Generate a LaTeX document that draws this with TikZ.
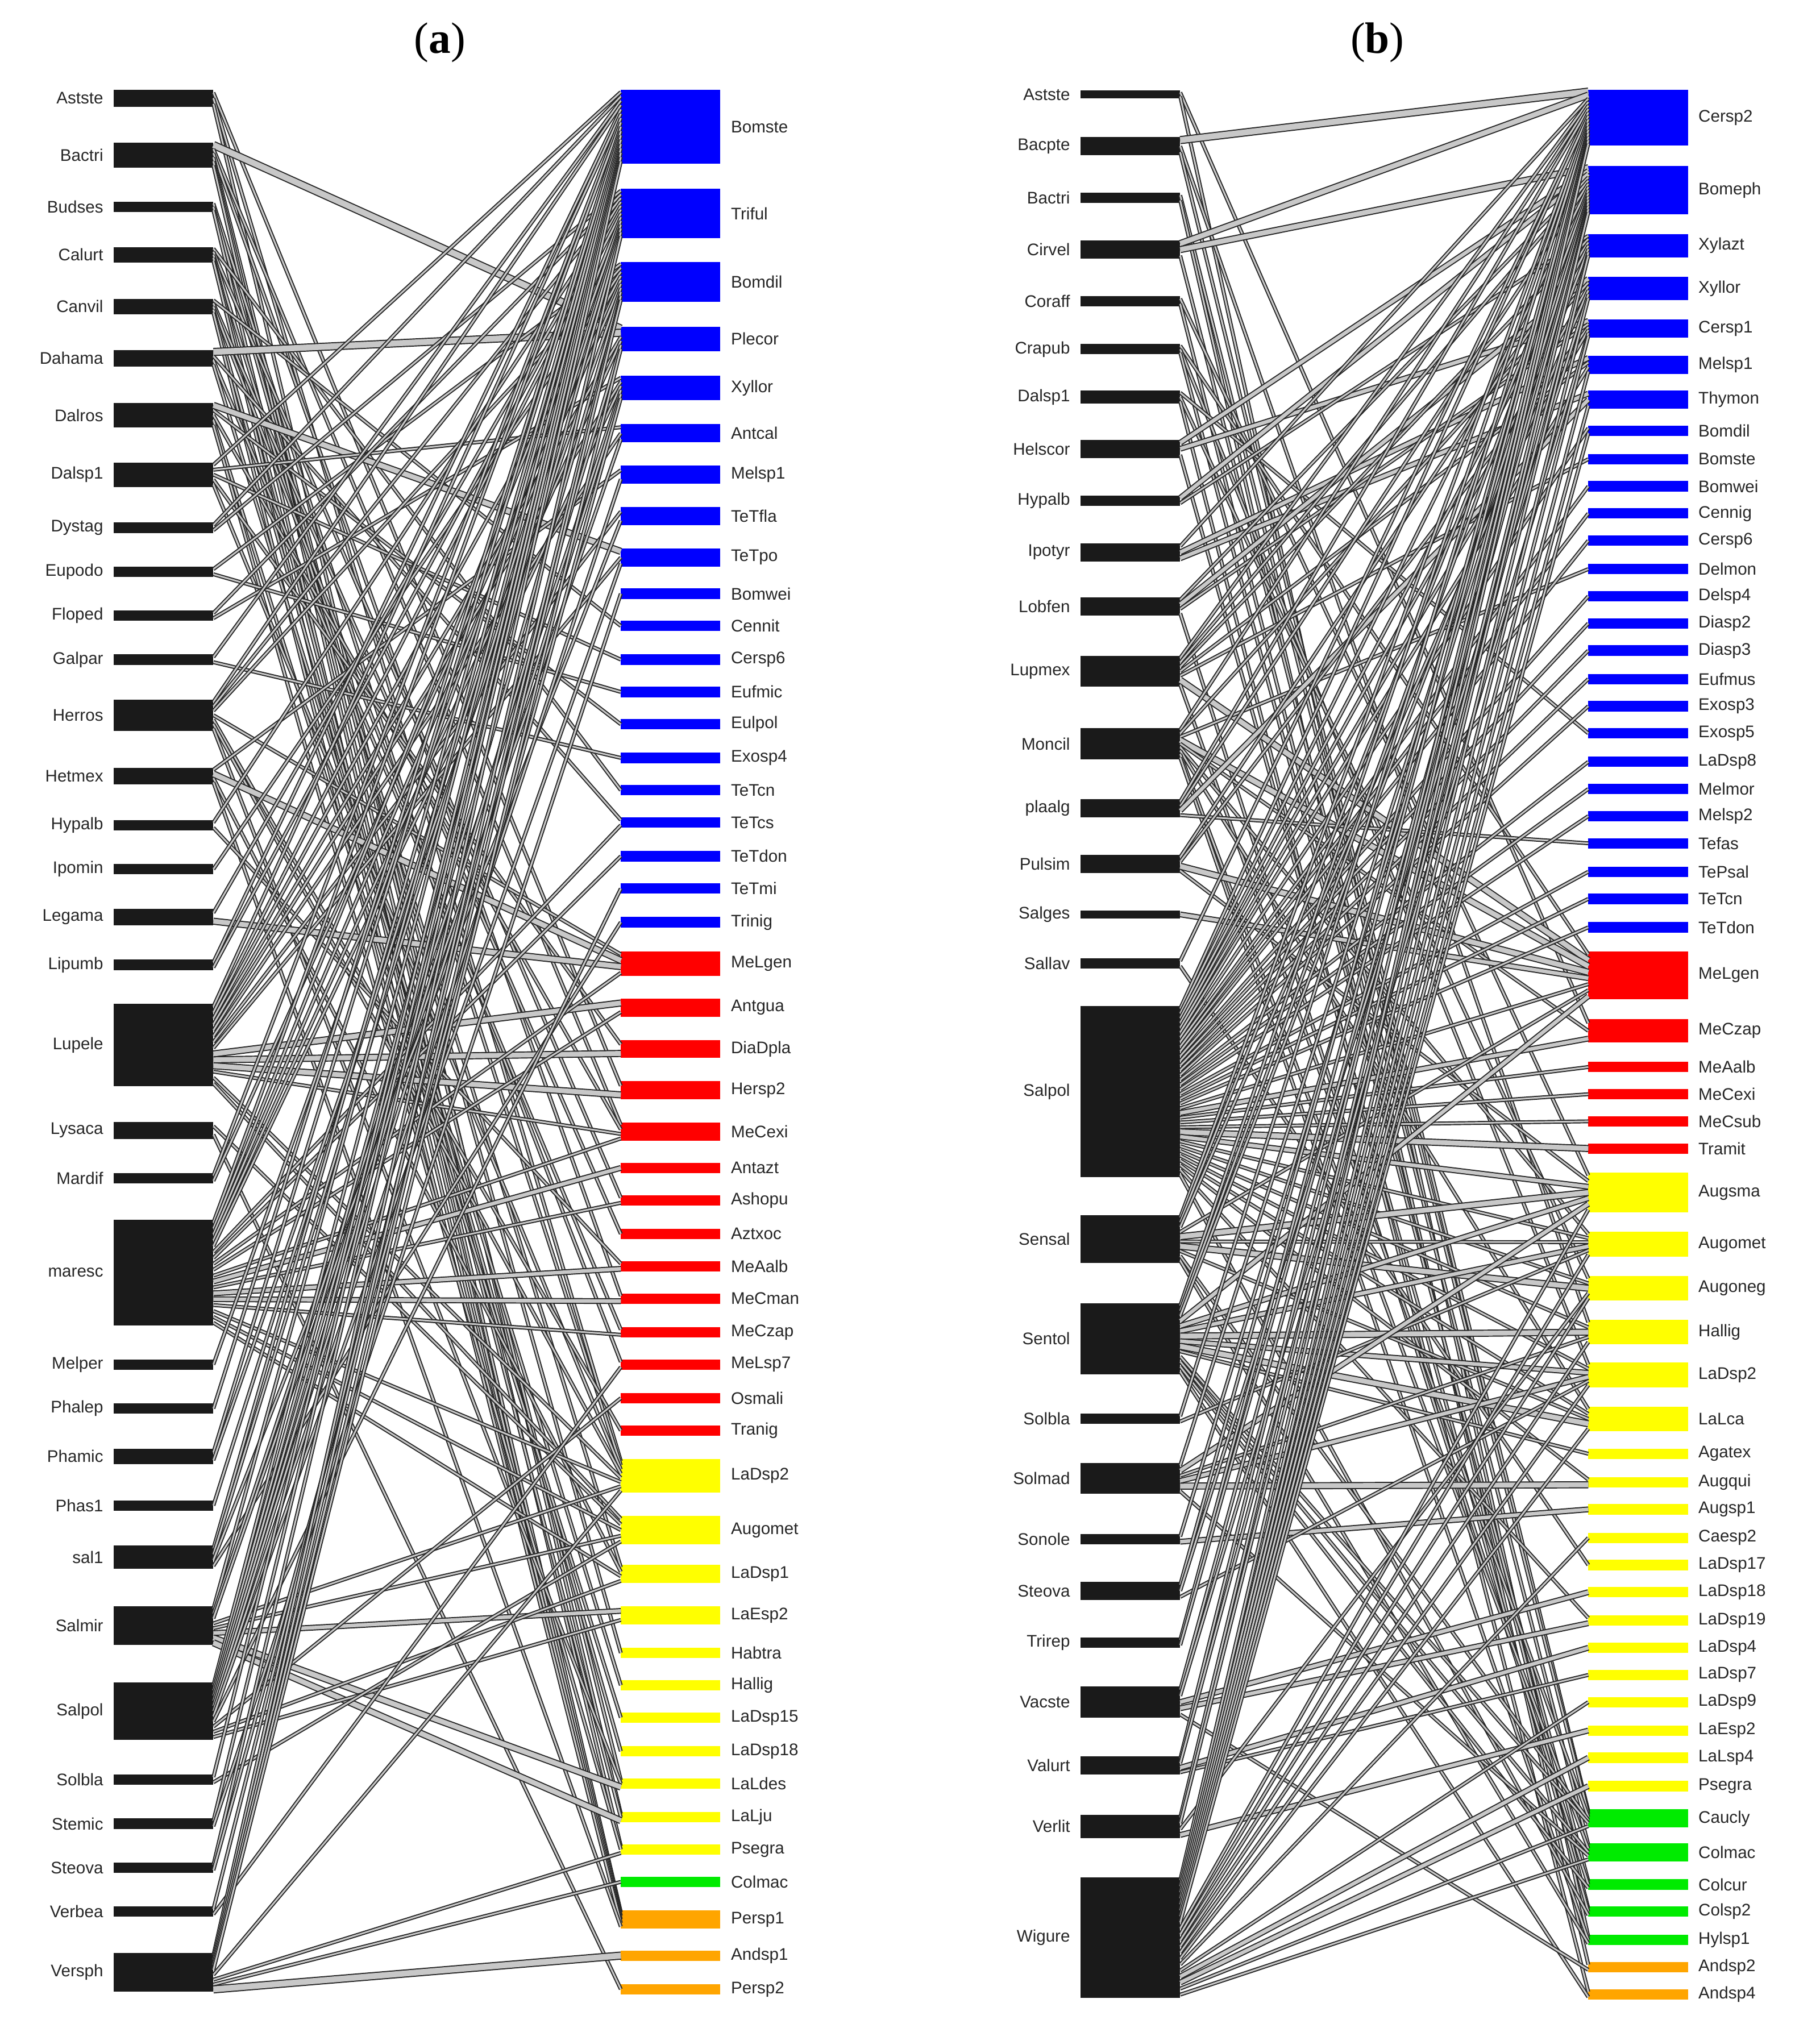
\documentclass[tikz,border=0pt]{standalone}
\usepackage{fontspec}
\setmainfont{Liberation Serif}
\setsansfont{Liberation Sans}
\usetikzlibrary{calc}
\definecolor{barblk}{HTML}{1A1A1A}
\definecolor{pblue}{RGB}{0,0,255}
\definecolor{pred}{RGB}{255,0,0}
\definecolor{pyel}{RGB}{255,255,0}
\definecolor{pgrn}{RGB}{0,235,0}
\definecolor{porg}{RGB}{255,165,0}
\definecolor{lkfill}{HTML}{C8C8C8}
\definecolor{lkline}{HTML}{262626}
\tikzset{
  bar/.style={rectangle, inner sep=0pt, outer sep=0pt, minimum width=77pt, draw=none},
  lab/.style={font=\sffamily\fontsize{13}{15}\selectfont, text=black!85, inner xsep=8pt, inner ysep=0pt},
  lk/.style={draw=lkline, line width=0.85pt, double=lkfill, double distance=#1pt},
  ttl/.style={font=\fontsize{34}{40}\selectfont, inner sep=0pt}
}
\newcommand\xkinc[1]{\expandafter\ifx\csname xk@#1\endcsname\relax\expandafter\gdef\csname xk@#1\endcsname{0}\fi\expandafter\xdef\csname xk@#1\endcsname{\the\numexpr\csname xk@#1\endcsname+1\relax}}
\newcommand\LNKcount[3]{\xkinc{t#1}\xkinc{t#2}}
\newcommand\LNKdraw[3]{%
  \xkinc{c#1}\xkinc{c#2}%
  \edef\xka{\csname xk@c#1\endcsname}\edef\xkb{\csname xk@t#1\endcsname}%
  \edef\xkc{\csname xk@c#2\endcsname}\edef\xkd{\csname xk@t#2\endcsname}%
  \pgfmathsetmacro\xkf{(\xka-0.5)/\xkb}%
  \pgfmathsetmacro\xkg{(\xkc-0.5)/\xkd}%
  \draw[lk=#3] ($(#1.north east)!\xkf!(#1.south east)$) -- ($(#2.north west)!\xkg!(#2.south west)$);}
\let\LNK\LNKcount
\newcommand\Ln[2]{\LNK{#1}{#2}{1.3}}
\newcommand\Lw[3]{\LNK{#1}{#2}{#3}}
\newcommand\BL[4]{\node[bar,fill=barblk,minimum height=#4pt,label={[lab]left:#2}] (#1) at (\bx,#3) {};}
\newcommand\BR[5]{\node[bar,fill=#5,minimum height=#4pt,label={[lab]right:#2}] (#1) at (\bx,#3) {};}

\newcommand\linksA{%
\Ln{aAstste}{aHersp2}\Ln{aAstste}{aLaDsp2}\Ln{aAstste}{aLaLju}%
\Lw{aBactri}{aPlecor}{4.6}\Ln{aBactri}{aMeCexi}\Ln{aBactri}{aMeCman}\Ln{aBactri}{aLaLdes}\Ln{aBactri}{aPsegra}\Ln{aBactri}{aPersp1}%
\Ln{aBudses}{aLaDsp2}\Ln{aBudses}{aHabtra}\Ln{aBudses}{aPersp1}%
\Ln{aCalurt}{aTeTcn}\Ln{aCalurt}{aAshopu}\Ln{aCalurt}{aLaDsp1}\Ln{aCalurt}{aLaLju}\Ln{aCalurt}{aPersp1}%
\Ln{aCanvil}{aCennit}\Ln{aCanvil}{aAztxoc}\Ln{aCanvil}{aMeLsp7}\Ln{aCanvil}{aLaDsp18}\Ln{aCanvil}{aPersp1}%
\Lw{aDahama}{aPlecor}{4.6}\Ln{aDahama}{aTeTcs}\Ln{aDahama}{aMeCzap}\Ln{aDahama}{aHallig}%
\Lw{aDalros}{aTeTpo}{3.8}\Ln{aDalros}{aEulpol}\Ln{aDalros}{aMeCexi}\Ln{aDalros}{aLaDsp15}\Ln{aDalros}{aPsegra}%
\Ln{aDalsp1}{aBomste}\Ln{aDalsp1}{aAntcal}\Ln{aDalsp1}{aCersp6}\Ln{aDalsp1}{aDiaDpla}\Ln{aDalsp1}{aLaDsp2}%
\Ln{aDystag}{aBomste}\Ln{aDystag}{aTriful}%
\Ln{aEupodo}{aBomdil}\Ln{aEupodo}{aEufmic}%
\Ln{aFloped}{aTriful}\Ln{aFloped}{aXyllor}%
\Ln{aGalpar}{aBomste}\Ln{aGalpar}{aExosp4}%
\Ln{aHerros}{aBomste}\Ln{aHerros}{aTriful}\Ln{aHerros}{aBomdil}\Ln{aHerros}{aMeLgen}\Ln{aHerros}{aTranig}\Ln{aHerros}{aLaDsp2}\Ln{aHerros}{aLaLdes}%
\Ln{aHetmex}{aMelsp1}\Lw{aHetmex}{aMeLgen}{3.8}\Ln{aHetmex}{aLaDsp1}\Ln{aHetmex}{aPersp1}%
\Ln{aHypalb}{aTriful}\Ln{aHypalb}{aMeAalb}%
\Ln{aIpomin}{aBomdil}%
\Ln{aLegama}{aTriful}\Lw{aLegama}{aMeLgen}{3.8}%
\Ln{aLipumb}{aBomste}\Ln{aLipumb}{aTriful}%
\Ln{aLupele}{aBomste}\Ln{aLupele}{aTriful}\Ln{aLupele}{aBomdil}\Ln{aLupele}{aPlecor}\Ln{aLupele}{aXyllor}\Ln{aLupele}{aAntcal}\Ln{aLupele}{aTeTfla}\Ln{aLupele}{aTeTpo}%
\Lw{aLupele}{aAntgua}{3.8}\Lw{aLupele}{aDiaDpla}{3.8}\Lw{aLupele}{aHersp2}{3.8}\Ln{aLupele}{aMeCexi}\Ln{aLupele}{aLaDsp2}\Ln{aLupele}{aAugomet}%
\Ln{aLysaca}{aAugomet}\Ln{aLysaca}{aPersp2}%
\Ln{aMardif}{aBomste}\Ln{aMardif}{aBomdil}%
\Ln{amaresc}{aBomste}\Ln{amaresc}{aTriful}\Ln{amaresc}{aBomdil}\Ln{amaresc}{aPlecor}\Ln{amaresc}{aXyllor}\Ln{amaresc}{aTeTcs}%
\Ln{amaresc}{aTeTdon}\Ln{amaresc}{aMeLgen}\Ln{amaresc}{aAntgua}\Ln{amaresc}{aMeCexi}\Lw{amaresc}{aAntazt}{2.8}\Ln{amaresc}{aAshopu}%
\Lw{amaresc}{aMeAalb}{2.8}\Lw{amaresc}{aMeCman}{2.8}\Ln{amaresc}{aMeCzap}\Ln{amaresc}{aLaDsp2}\Ln{amaresc}{aAugomet}\Ln{amaresc}{aLaDsp1}%
\Ln{aMelper}{aTriful}%
\Ln{aPhalep}{aBomste}%
\Ln{aPhamic}{aBomste}\Ln{aPhamic}{aBomdil}%
\Ln{aPhas1}{aTriful}%
\Ln{asal1}{aBomste}\Ln{asal1}{aTriful}\Ln{asal1}{aTeTfla}\Ln{asal1}{aTrinig}%
\Ln{aSalmir}{aBomste}\Ln{aSalmir}{aXyllor}\Ln{aSalmir}{aAntcal}\Ln{aSalmir}{aLaDsp2}\Ln{aSalmir}{aAugomet}%
\Lw{aSalmir}{aLaEsp2}{2.8}\Lw{aSalmir}{aLaLdes}{3.8}\Lw{aSalmir}{aLaLju}{3.8}%
\Ln{aSalpol}{aBomste}\Ln{aSalpol}{aTriful}\Ln{aSalpol}{aBomdil}\Ln{aSalpol}{aPlecor}\Ln{aSalpol}{aXyllor}\Ln{aSalpol}{aMelsp1}%
\Ln{aSalpol}{aTeTpo}\Ln{aSalpol}{aTeTmi}\Ln{aSalpol}{aOsmali}\Ln{aSalpol}{aLaDsp1}\Ln{aSalpol}{aLaEsp2}%
\Ln{aSolbla}{aBomste}\Ln{aSolbla}{aAugomet}%
\Ln{aStemic}{aBomste}\Ln{aStemic}{aBomwei}%
\Ln{aSteova}{aBomste}\Ln{aSteova}{aXyllor}%
\Ln{aVerbea}{aBomdil}\Ln{aVerbea}{aMeLsp7}%
\Ln{aVersph}{aBomste}\Ln{aVersph}{aTriful}\Ln{aVersph}{aBomdil}\Ln{aVersph}{aPlecor}\Ln{aVersph}{aLaDsp2}%
\Ln{aVersph}{aPsegra}\Ln{aVersph}{aColmac}\Lw{aVersph}{aAndsp1}{4.6}%
}

\newcommand\linksB{%
\Ln{bAstste}{bMeCzap}\Ln{bAstste}{bHylsp1}%
\Lw{bBacpte}{bCersp2}{4.6}\Ln{bBacpte}{bHallig}\Ln{bBacpte}{bCaucly}%
\Ln{bBactri}{bCaucly}\Ln{bBactri}{bAndsp2}%
\Lw{bCirvel}{bCersp2}{3.8}\Lw{bCirvel}{bBomeph}{3.8}\Ln{bCirvel}{bColmac}%
\Ln{bCoraff}{bAugsma}\Ln{bCoraff}{bColsp2}%
\Ln{bCrapub}{bMeLgen}\Ln{bCrapub}{bLaDsp2}\Ln{bCrapub}{bColcur}%
\Ln{bDalsp1}{bExosp5}\Ln{bDalsp1}{bAugoneg}\Ln{bDalsp1}{bAndsp4}%
\Lw{bHelscor}{bBomeph}{2.8}\Lw{bHelscor}{bCersp1}{2.8}\Ln{bHelscor}{bColsp2}%
\Lw{bHypalb}{bBomeph}{2.8}\Ln{bHypalb}{bXylazt}%
\Ln{bIpotyr}{bCersp2}\Lw{bIpotyr}{bMelsp1}{2.8}\Lw{bIpotyr}{bThymon}{2.8}%
\Ln{bLobfen}{bBomeph}\Lw{bLobfen}{bXyllor}{2.8}\Ln{bLobfen}{bCersp1}\Ln{bLobfen}{bColcur}%
\Ln{bLupmex}{bCersp2}\Ln{bLupmex}{bBomeph}\Ln{bLupmex}{bXylazt}\Ln{bLupmex}{bMelsp1}\Ln{bLupmex}{bBomste}\Lw{bLupmex}{bMeLgen}{3.8}\Ln{bLupmex}{bCaucly}%
\Ln{bMoncil}{bCersp2}\Ln{bMoncil}{bXyllor}\Ln{bMoncil}{bDelmon}\Lw{bMoncil}{bMeLgen}{3.8}\Ln{bMoncil}{bMeCzap}\Ln{bMoncil}{bAugomet}\Ln{bMoncil}{bLaLca}\Ln{bMoncil}{bColmac}\Ln{bMoncil}{bHylsp1}%
\Ln{bplaalg}{bCersp2}\Ln{bplaalg}{bBomeph}\Lw{bplaalg}{bThymon}{2.8}\Ln{bplaalg}{bTefas}%
\Ln{bPulsim}{bXylazt}\Ln{bPulsim}{bCersp1}\Lw{bPulsim}{bMeLgen}{3.8}\Ln{bPulsim}{bAugsma}%
\Lw{bSalges}{bMeLgen}{2.8}%
\Ln{bSallav}{bCersp2}\Ln{bSallav}{bLaDsp17}%
\Ln{bSalpol}{bCersp2}\Ln{bSalpol}{bBomeph}\Ln{bSalpol}{bXylazt}\Ln{bSalpol}{bXyllor}\Ln{bSalpol}{bCersp1}\Ln{bSalpol}{bMelsp1}%
\Ln{bSalpol}{bBomdil}\Ln{bSalpol}{bBomwei}\Ln{bSalpol}{bCennig}\Ln{bSalpol}{bCersp6}\Ln{bSalpol}{bDelsp4}\Ln{bSalpol}{bDiasp2}%
\Ln{bSalpol}{bDiasp3}\Ln{bSalpol}{bEufmus}\Ln{bSalpol}{bExosp3}\Ln{bSalpol}{bLaDsp8}\Ln{bSalpol}{bMelmor}\Ln{bSalpol}{bMelsp2}%
\Ln{bSalpol}{bTePsal}\Ln{bSalpol}{bTeTcn}\Ln{bSalpol}{bTeTdon}\Ln{bSalpol}{bMeLgen}\Lw{bSalpol}{bMeCzap}{2.8}\Ln{bSalpol}{bMeAalb}%
\Ln{bSalpol}{bMeCexi}\Ln{bSalpol}{bMeCsub}\Lw{bSalpol}{bTramit}{3.8}\Lw{bSalpol}{bAugsma}{2.8}\Ln{bSalpol}{bAugomet}\Ln{bSalpol}{bAugoneg}%
\Ln{bSalpol}{bHallig}\Ln{bSalpol}{bLaDsp2}\Ln{bSalpol}{bLaLca}\Ln{bSalpol}{bAugqui}\Ln{bSalpol}{bLaDsp19}\Ln{bSalpol}{bColsp2}%
\Ln{bSensal}{bCersp2}\Ln{bSensal}{bBomeph}\Ln{bSensal}{bXyllor}\Ln{bSensal}{bMeLgen}\Lw{bSensal}{bAugsma}{3.8}\Ln{bSensal}{bAugomet}\Lw{bSensal}{bAugoneg}{3.8}%
\Ln{bSensal}{bLaLca}\Ln{bSensal}{bCaucly}\Ln{bSensal}{bHylsp1}%
\Ln{bSentol}{bCersp2}\Ln{bSentol}{bBomeph}\Ln{bSentol}{bXylazt}\Lw{bSentol}{bMeLgen}{2.8}\Lw{bSentol}{bAugsma}{2.8}\Lw{bSentol}{bAugomet}{2.8}%
\Lw{bSentol}{bHallig}{3.8}\Lw{bSentol}{bLaDsp2}{2.8}\Lw{bSentol}{bLaLca}{3.8}\Ln{bSentol}{bAgatex}\Ln{bSentol}{bCaucly}\Ln{bSentol}{bColmac}%
\Ln{bSentol}{bColcur}\Ln{bSentol}{bAndsp4}%
\Ln{bSolbla}{bCersp2}\Ln{bSolbla}{bAugomet}%
\Ln{bSolmad}{bBomeph}\Lw{bSolmad}{bAugsma}{2.8}\Ln{bSolmad}{bHallig}\Lw{bSolmad}{bLaDsp2}{2.8}\Lw{bSolmad}{bAugqui}{3.8}\Ln{bSolmad}{bColmac}%
\Ln{bSonole}{bBomeph}\Lw{bSonole}{bAugsp1}{2.8}%
\Ln{bSteova}{bCersp2}\Ln{bSteova}{bXyllor}\Ln{bSteova}{bLaDsp2}%
\Ln{bTrirep}{bCersp2}\Ln{bTrirep}{bBomeph}%
\Ln{bVacste}{bBomeph}\Ln{bVacste}{bCersp1}\Lw{bVacste}{bLaDsp18}{2.8}\Lw{bVacste}{bLaDsp19}{2.8}\Ln{bVacste}{bAndsp2}%
\Ln{bValurt}{bCersp2}\Ln{bValurt}{bXylazt}\Lw{bValurt}{bLaDsp4}{2.8}\Ln{bValurt}{bLaDsp7}%
\Ln{bVerlit}{bCersp2}\Ln{bVerlit}{bBomeph}\Ln{bVerlit}{bAugoneg}\Lw{bVerlit}{bLaEsp2}{2.8}%
\Ln{bWigure}{bCersp2}\Ln{bWigure}{bBomeph}\Ln{bWigure}{bXylazt}\Ln{bWigure}{bXyllor}\Ln{bWigure}{bCersp1}\Ln{bWigure}{bMelsp1}%
\Ln{bWigure}{bThymon}\Ln{bWigure}{bBomdil}\Ln{bWigure}{bAugsma}\Ln{bWigure}{bAugomet}\Ln{bWigure}{bAugoneg}\Ln{bWigure}{bHallig}%
\Ln{bWigure}{bLaDsp2}\Ln{bWigure}{bLaLca}\Ln{bWigure}{bCaesp2}\Ln{bWigure}{bLaDsp9}\Lw{bWigure}{bLaLsp4}{2.8}\Lw{bWigure}{bPsegra}{2.8}%
\Ln{bWigure}{bCaucly}\Ln{bWigure}{bColmac}%
}

\begin{document}
\begin{tikzpicture}[x=1pt,y=-1pt]
\fill[white] (0,0) rectangle (1407,1568);
\useasboundingbox (0,0) rectangle (1407,1568);

\node[ttl] (ta) at (340,33) {(\textbf{a})};
\node[ttl] (tb) at (1065,33) {(\textbf{b})};

% ---------- panel (a) left ----------
\def\bx{126.5}
\BL{aAstste}{Astste}{76}{13}
\BL{aBactri}{Bactri}{120}{19}
\BL{aBudses}{Budses}{160}{8}
\BL{aCalurt}{Calurt}{197}{12}
\BL{aCanvil}{Canvil}{237}{12}
\BL{aDahama}{Dahama}{277}{13}
\BL{aDalros}{Dalros}{321}{19}
\BL{aDalsp1}{Dalsp1}{367}{19}
\BL{aDystag}{Dystag}{408}{8}
\BL{aEupodo}{Eupodo}{442}{8}
\BL{aFloped}{Floped}{476}{8}
\BL{aGalpar}{Galpar}{510}{8}
\BL{aHerros}{Herros}{553}{24}
\BL{aHetmex}{Hetmex}{600}{13}
\BL{aHypalb}{Hypalb}{638}{8}
\BL{aIpomin}{Ipomin}{672}{8}
\BL{aLegama}{Legama}{709}{13}
\BL{aLipumb}{Lipumb}{746}{8}
\BL{aLupele}{Lupele}{808}{64}
\BL{aLysaca}{Lysaca}{874}{13}
\BL{aMardif}{Mardif}{911}{8}
\BL{amaresc}{maresc}{984}{82}
\BL{aMelper}{Melper}{1055}{8}
\BL{aPhalep}{Phalep}{1089}{8}
\BL{aPhamic}{Phamic}{1126}{12}
\BL{aPhas1}{Phas1}{1164}{8}
\BL{asal1}{sal1}{1204}{18}
\BL{aSalmir}{Salmir}{1257}{30}
\BL{aSalpol}{Salpol}{1323}{44}
\BL{aSolbla}{Solbla}{1376}{8}
\BL{aStemic}{Stemic}{1410}{8}
\BL{aSteova}{Steova}{1444}{8}
\BL{aVerbea}{Verbea}{1478}{8}
\BL{aVersph}{Versph}{1525}{30}

% ---------- panel (a) right ----------
\def\bx{518.5}
\BR{aBomste}{Bomste}{98}{57}{pblue}
\BR{aTriful}{Triful}{165}{38}{pblue}
\BR{aBomdil}{Bomdil}{218}{31}{pblue}
\BR{aPlecor}{Plecor}{262}{19}{pblue}
\BR{aXyllor}{Xyllor}{300}{19}{pblue}
\BR{aAntcal}{Antcal}{335}{14}{pblue}
\BR{aMelsp1}{Melsp1}{367}{14}{pblue}
\BR{aTeTfla}{TeTfla}{399}{14}{pblue}
\BR{aTeTpo}{TeTpo}{431}{14}{pblue}
\BR{aBomwei}{Bomwei}{459}{8}{pblue}
\BR{aCennit}{Cennit}{484}{8}{pblue}
\BR{aCersp6}{Cersp6}{510}{8}{pblue}
\BR{aEufmic}{Eufmic}{535}{8}{pblue}
\BR{aEulpol}{Eulpol}{560}{8}{pblue}
\BR{aExosp4}{Exosp4}{586}{8}{pblue}
\BR{aTeTcn}{TeTcn}{611}{8}{pblue}
\BR{aTeTcs}{TeTcs}{636}{8}{pblue}
\BR{aTeTdon}{TeTdon}{662}{8}{pblue}
\BR{aTeTmi}{TeTmi}{687}{8}{pblue}
\BR{aTrinig}{Trinig}{713}{8}{pblue}
\BR{aMeLgen}{MeLgen}{745}{19}{pred}
\BR{aAntgua}{Antgua}{779}{14}{pred}
\BR{aDiaDpla}{DiaDpla}{811}{14}{pred}
\BR{aHersp2}{Hersp2}{843}{14}{pred}
\BR{aMeCexi}{MeCexi}{875}{14}{pred}
\BR{aAntazt}{Antazt}{903}{8}{pred}
\BR{aAshopu}{Ashopu}{928}{8}{pred}
\BR{aAztxoc}{Aztxoc}{954}{8}{pred}
\BR{aMeAalb}{MeAalb}{979}{8}{pred}
\BR{aMeCman}{MeCman}{1004}{8}{pred}
\BR{aMeCzap}{MeCzap}{1030}{8}{pred}
\BR{aMeLsp7}{MeLsp7}{1055}{8}{pred}
\BR{aOsmali}{Osmali}{1081}{8}{pred}
\BR{aTranig}{Tranig}{1106}{8}{pred}
\BR{aLaDsp2}{LaDsp2}{1141}{26}{pyel}
\BR{aAugomet}{Augomet}{1183}{22}{pyel}
\BR{aLaDsp1}{LaDsp1}{1217}{14}{pyel}
\BR{aLaEsp2}{LaEsp2}{1249}{14}{pyel}
\BR{aHabtra}{Habtra}{1278}{8}{pyel}
\BR{aHallig}{Hallig}{1303}{8}{pyel}
\BR{aLaDsp15}{LaDsp15}{1328}{8}{pyel}
\BR{aLaDsp18}{LaDsp18}{1354}{8}{pyel}
\BR{aLaLdes}{LaLdes}{1379}{8}{pyel}
\BR{aLaLju}{LaLju}{1405}{8}{pyel}
\BR{aPsegra}{Psegra}{1430}{8}{pyel}
\BR{aColmac}{Colmac}{1455}{8}{pgrn}
\BR{aPersp1}{Persp1}{1484}{14}{porg}
\BR{aAndsp1}{Andsp1}{1512}{8}{porg}
\BR{aPersp2}{Persp2}{1538}{8}{porg}

% ---------- panel (b) left ----------
\def\bx{874}
\BL{bAstste}{Astste}{73}{6}
\BL{bBacpte}{Bacpte}{113}{14}
\BL{bBactri}{Bactri}{153}{8}
\BL{bCirvel}{Cirvel}{193}{14}
\BL{bCoraff}{Coraff}{233}{8}
\BL{bCrapub}{Crapub}{270}{8}
\BL{bDalsp1}{Dalsp1}{307}{10}
\BL{bHelscor}{Helscor}{347}{14}
\BL{bHypalb}{Hypalb}{387}{8}
\BL{bIpotyr}{Ipotyr}{427}{14}
\BL{bLobfen}{Lobfen}{469}{14}
\BL{bLupmex}{Lupmex}{519}{24}
\BL{bMoncil}{Moncil}{575}{24}
\BL{bplaalg}{plaalg}{625}{14}
\BL{bPulsim}{Pulsim}{668}{14}
\BL{bSalges}{Salges}{707}{6}
\BL{bSallav}{Sallav}{745}{8}
\BL{bSalpol}{Salpol}{844}{132}
\BL{bSensal}{Sensal}{958}{37}
\BL{bSentol}{Sentol}{1035}{55}
\BL{bSolbla}{Solbla}{1097}{8}
\BL{bSolmad}{Solmad}{1143}{24}
\BL{bSonole}{Sonole}{1190}{8}
\BL{bSteova}{Steova}{1230}{14}
\BL{bTrirep}{Trirep}{1270}{8}
\BL{bVacste}{Vacste}{1316}{24}
\BL{bValurt}{Valurt}{1365}{14}
\BL{bVerlit}{Verlit}{1412}{18}
\BL{bWigure}{Wigure}{1498}{93}

% ---------- panel (b) right ----------
\def\bx{1266.5}
\BR{bCersp2}{Cersp2}{91}{43}{pblue}
\BR{bBomeph}{Bomeph}{147}{37}{pblue}
\BR{bXylazt}{Xylazt}{190}{18}{pblue}
\BR{bXyllor}{Xyllor}{223}{18}{pblue}
\BR{bCersp1}{Cersp1}{254}{14}{pblue}
\BR{bMelsp1}{Melsp1}{282}{14}{pblue}
\BR{bThymon}{Thymon}{309}{14}{pblue}
\BR{bBomdil}{Bomdil}{333}{8}{pblue}
\BR{bBomste}{Bomste}{355}{8}{pblue}
\BR{bBomwei}{Bomwei}{376}{8}{pblue}
\BR{bCennig}{Cennig}{397}{8}{pblue}
\BR{bCersp6}{Cersp6}{418}{8}{pblue}
\BR{bDelmon}{Delmon}{440}{8}{pblue}
\BR{bDelsp4}{Delsp4}{461}{8}{pblue}
\BR{bDiasp2}{Diasp2}{482}{8}{pblue}
\BR{bDiasp3}{Diasp3}{503}{8}{pblue}
\BR{bEufmus}{Eufmus}{525}{8}{pblue}
\BR{bExosp3}{Exosp3}{546}{8}{pblue}
\BR{bExosp5}{Exosp5}{567}{8}{pblue}
\BR{bLaDsp8}{LaDsp8}{589}{8}{pblue}
\BR{bMelmor}{Melmor}{610}{8}{pblue}
\BR{bMelsp2}{Melsp2}{631}{8}{pblue}
\BR{bTefas}{Tefas}{652}{8}{pblue}
\BR{bTePsal}{TePsal}{674}{8}{pblue}
\BR{bTeTcn}{TeTcn}{695}{8}{pblue}
\BR{bTeTdon}{TeTdon}{717}{8}{pblue}
\BR{bMeLgen}{MeLgen}{754}{37}{pred}
\BR{bMeCzap}{MeCzap}{797}{18}{pred}
\BR{bMeAalb}{MeAalb}{825}{8}{pred}
\BR{bMeCexi}{MeCexi}{846}{8}{pred}
\BR{bMeCsub}{MeCsub}{867}{8}{pred}
\BR{bTramit}{Tramit}{888}{8}{pred}
\BR{bAugsma}{Augsma}{922}{31}{pyel}
\BR{bAugomet}{Augomet}{962}{19}{pyel}
\BR{bAugoneg}{Augoneg}{996}{19}{pyel}
\BR{bHallig}{Hallig}{1030}{19}{pyel}
\BR{bLaDsp2}{LaDsp2}{1063}{19}{pyel}
\BR{bLaLca}{LaLca}{1097}{19}{pyel}
\BR{bAgatex}{Agatex}{1124}{8}{pyel}
\BR{bAugqui}{Augqui}{1146}{8}{pyel}
\BR{bAugsp1}{Augsp1}{1167}{8}{pyel}
\BR{bCaesp2}{Caesp2}{1189}{8}{pyel}
\BR{bLaDsp17}{LaDsp17}{1210}{8}{pyel}
\BR{bLaDsp18}{LaDsp18}{1231}{8}{pyel}
\BR{bLaDsp19}{LaDsp19}{1253}{8}{pyel}
\BR{bLaDsp4}{LaDsp4}{1274}{8}{pyel}
\BR{bLaDsp7}{LaDsp7}{1295}{8}{pyel}
\BR{bLaDsp9}{LaDsp9}{1316}{8}{pyel}
\BR{bLaEsp2}{LaEsp2}{1338}{8}{pyel}
\BR{bLaLsp4}{LaLsp4}{1359}{8}{pyel}
\BR{bPsegra}{Psegra}{1381}{8}{pyel}
\BR{bCaucly}{Caucly}{1406}{14}{pgrn}
\BR{bColmac}{Colmac}{1432}{14}{pgrn}
\BR{bColcur}{Colcur}{1457}{8}{pgrn}
\BR{bColsp2}{Colsp2}{1478}{8}{pgrn}
\BR{bHylsp1}{Hylsp1}{1500}{8}{pgrn}
\BR{bAndsp2}{Andsp2}{1521}{8}{porg}
\BR{bAndsp4}{Andsp4}{1542}{8}{porg}

% ---------- links ----------
\let\LNK\LNKcount
\linksA\linksB
\let\LNK\LNKdraw
\linksA\linksB
\end{tikzpicture}
\end{document}
